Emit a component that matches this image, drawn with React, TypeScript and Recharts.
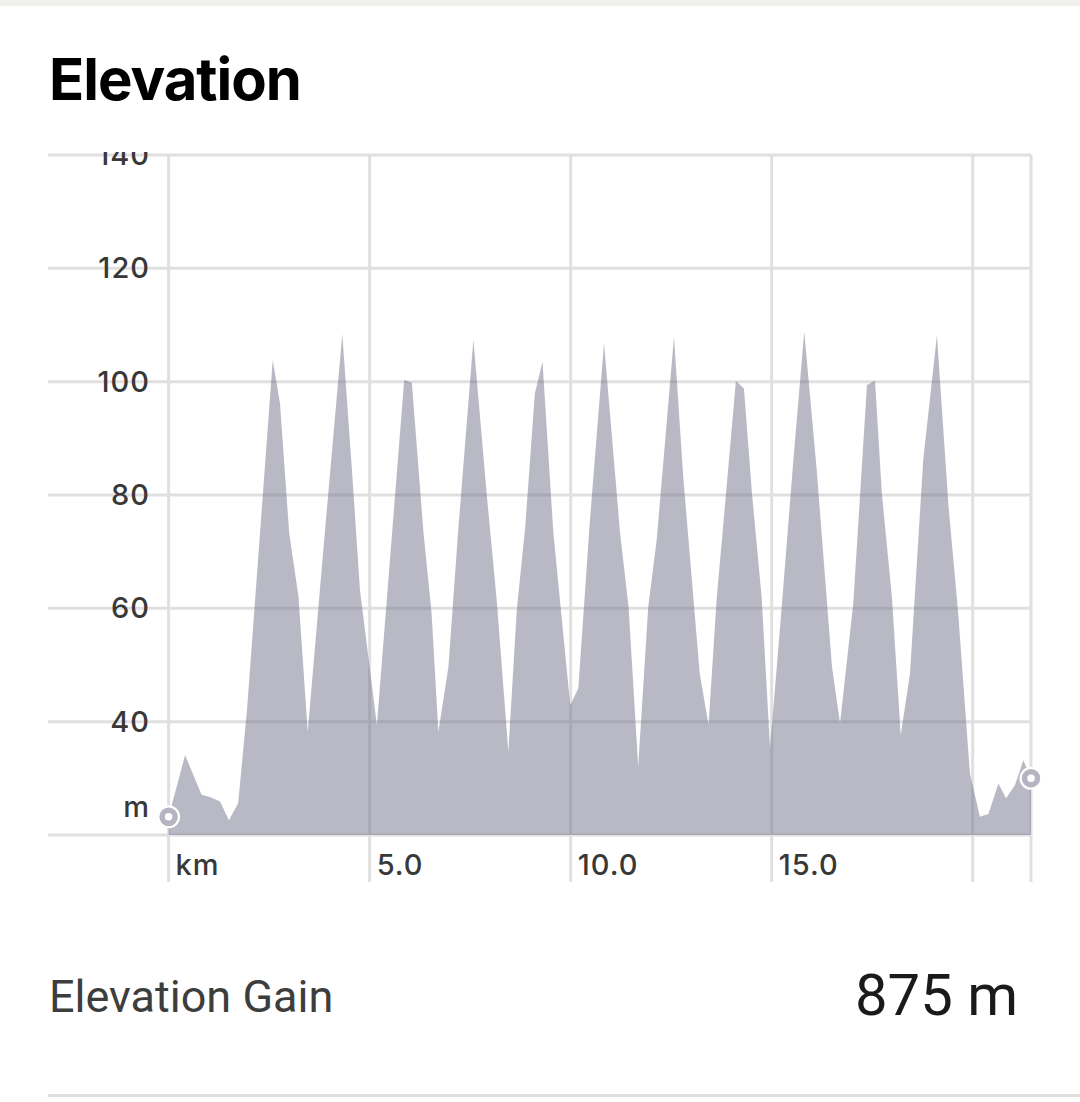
import React from "react";
import {
  AreaChart, Area, XAxis, YAxis, CartesianGrid,
} from "recharts";

const distanceKm = [
  0, 0.41, 0.82, 1.03, 1.28, 1.5, 1.73, 1.95, 2.59, 2.77,
  3.0, 3.23, 3.46, 3.87, 4.32, 4.56, 4.76, 5.18, 5.86, 6.05,
  6.34, 6.54, 6.71, 6.96, 7.21, 7.58, 7.91, 8.16, 8.45, 8.66,
  8.87, 9.11, 9.3, 9.57, 9.99, 10.19, 10.48, 10.83, 11.23, 11.44,
  11.68, 11.93, 12.14, 12.57, 12.8, 13.21, 13.43, 13.63, 13.88, 14.11,
  14.31, 14.51, 14.75, 14.96, 15.25, 15.54, 15.81, 16.12, 16.5, 16.7,
  17.03, 17.37, 17.57, 17.74, 17.99, 18.21, 18.44, 18.77, 19.11, 19.4,
  19.64, 19.93, 20.18, 20.39, 20.64, 20.83, 21.05, 21.26, 21.45,
];
const elevationM = [
  23.2, 34.1, 27.1, 26.7, 25.9, 22.6, 25.6, 42.1, 103.8, 96.2,
  73.2, 62.1, 38.2, 72.1, 108.4, 84.4, 63.2, 39.4, 100.3, 99.8,
  73.3, 59.2, 38.2, 49.7, 74.4, 107.4, 80.3, 61.5, 34.7, 59.7,
  74.4, 97.9, 103.5, 73.3, 42.9, 45.9, 75.6, 106.8, 73.2, 60.3,
  32.1, 60.3, 72.1, 107.9, 83.2, 48.5, 39.4, 61.5, 81.5, 100.1,
  98.8, 80.3, 62.0, 35.3, 60.3, 86.2, 108.8, 84.4, 49.7, 39.7,
  60.9, 99.4, 100.2, 80.3, 62.0, 37.6, 48.5, 86.2, 108.2, 77.9,
  59.1, 30.9, 23.2, 23.7, 29.1, 26.5, 28.8, 33.2, 30.0,
];

const xDomain = [-3, 21.45];
const xTicks = [0, 5, 10, 15, 20, 21.45];
const xTickLabels = ["km", "5.0", "10.0", "15.0", "", ""];
const yTicks = [20, 40, 60, 80, 100, 120, 140];

const title = "Elevation";
const gainLabel = "Elevation Gain";
const gainValue = "875 m";

const data = distanceKm.map((km, i) => ({ km, ele: elevationM[i] }));

const GRID = "#e0e0e0";
const TEXT = "#383838";
const TICK_FONT = "Inter, 'Noto Sans', sans-serif";

function YTick({ x, y, payload }: any) {
  const isUnit = payload.value === 20;
  return (
    <text
      x={x + 102}
      y={isUnit ? y - 18 : y + 10}
      textAnchor="end"
      fontFamily={TICK_FONT}
      fontWeight={500}
      fontSize={29}
      letterSpacing={1}
      fill={TEXT}
    >
      {isUnit ? "m" : payload.value}
    </text>
  );
}

function XTick({ x, y, payload, index }: any) {
  const label = xTickLabels[xTicks.indexOf(payload.value)] ?? "";
  if (!label) return <g key={index} />;
  return (
    <text
      x={x + 7}
      y={y - 7}
      textAnchor="start"
      fontFamily={TICK_FONT}
      fontWeight={500}
      fontSize={29}
      letterSpacing={1}
      fill={TEXT}
    >
      {label}
    </text>
  );
}

// start / finish markers only
function EndDot({ cx, cy, index }: any) {
  if (index !== 0 && index !== data.length - 1) return <g key={index} />;
  return (
    <g key={index}>
      <circle cx={cx} cy={cy} r={11.5} fill="#fff" />
      <circle cx={cx} cy={cy} r={6.5} fill="#fff" stroke="#b5b5c1" strokeWidth={5.5} />
    </g>
  );
}

// vertical grid only at the km ticks (no line on the left edge of the plot)
const verticalLines = ({ xAxis, offset }: any) => {
  if (typeof xAxis?.scale === "function") return xTicks.map((t) => xAxis.scale(t));
  const [d0, d1] = xDomain;
  return xTicks.map((t) => offset.left + ((t - d0) / (d1 - d0)) * offset.width);
};

export default function App() {
  return (
    <div style={{
      position: "absolute", left: 0, top: 0, width: 1080, height: 1102,
      background: "#fff", overflow: "hidden",
    }}>
      <div style={{ position: "absolute", left: 0, top: 0, width: 1080, height: 6, background: "#f0f0ec" }} />

      <div style={{
        position: "absolute", left: 49, top: 44,
        fontFamily: "Inter, sans-serif", fontWeight: 700, fontSize: 58,
        letterSpacing: -1, color: "#000", lineHeight: "70px",
      }}>
        {title}
      </div>

      <div style={{ position: "absolute", left: 0, top: 152 }}>
        <AreaChart
          width={1080}
          height={740}
          data={data}
          margin={{ top: 3, right: 49, left: 48, bottom: 7 }}
        >
          <CartesianGrid stroke={GRID} strokeWidth={3} verticalCoordinatesGenerator={verticalLines} />
          <XAxis
            dataKey="km"
            type="number"
            domain={xDomain}
            ticks={xTicks}
            interval={0}
            height={50}
            axisLine={false}
            tickSize={47}
            tickMargin={0}
            tickLine={{ stroke: GRID, strokeWidth: 3 }}
            tick={<XTick />}
          />
          <YAxis
            type="number"
            domain={[20, 140]}
            ticks={yTicks}
            interval={0}
            mirror
            axisLine={false}
            tickLine={false}
            tickSize={0}
            tickMargin={0}
            tick={<YTick />}
          />
          <Area
            type="linear"
            dataKey="ele"
            stroke="none"
            fill="rgb(109,109,134)"
            fillOpacity={0.48}
            dot={EndDot}
            activeDot={false}
            isAnimationActive={false}
          />
        </AreaChart>
      </div>

      <div style={{
        position: "absolute", left: 49, top: 970,
        fontFamily: "Roboto, sans-serif", fontSize: 45, color: "#3d3d3d", lineHeight: "54px",
      }}>
        {gainLabel}
      </div>
      <div style={{
        position: "absolute", right: 62, top: 962,
        fontFamily: "Roboto, sans-serif", fontSize: 58, color: "#1a1a1a", lineHeight: "66px",
      }}>
        {gainValue}
      </div>

      <div style={{ position: "absolute", left: 48, top: 1094, width: 1032, height: 3, background: GRID }} />
    </div>
  );
}
